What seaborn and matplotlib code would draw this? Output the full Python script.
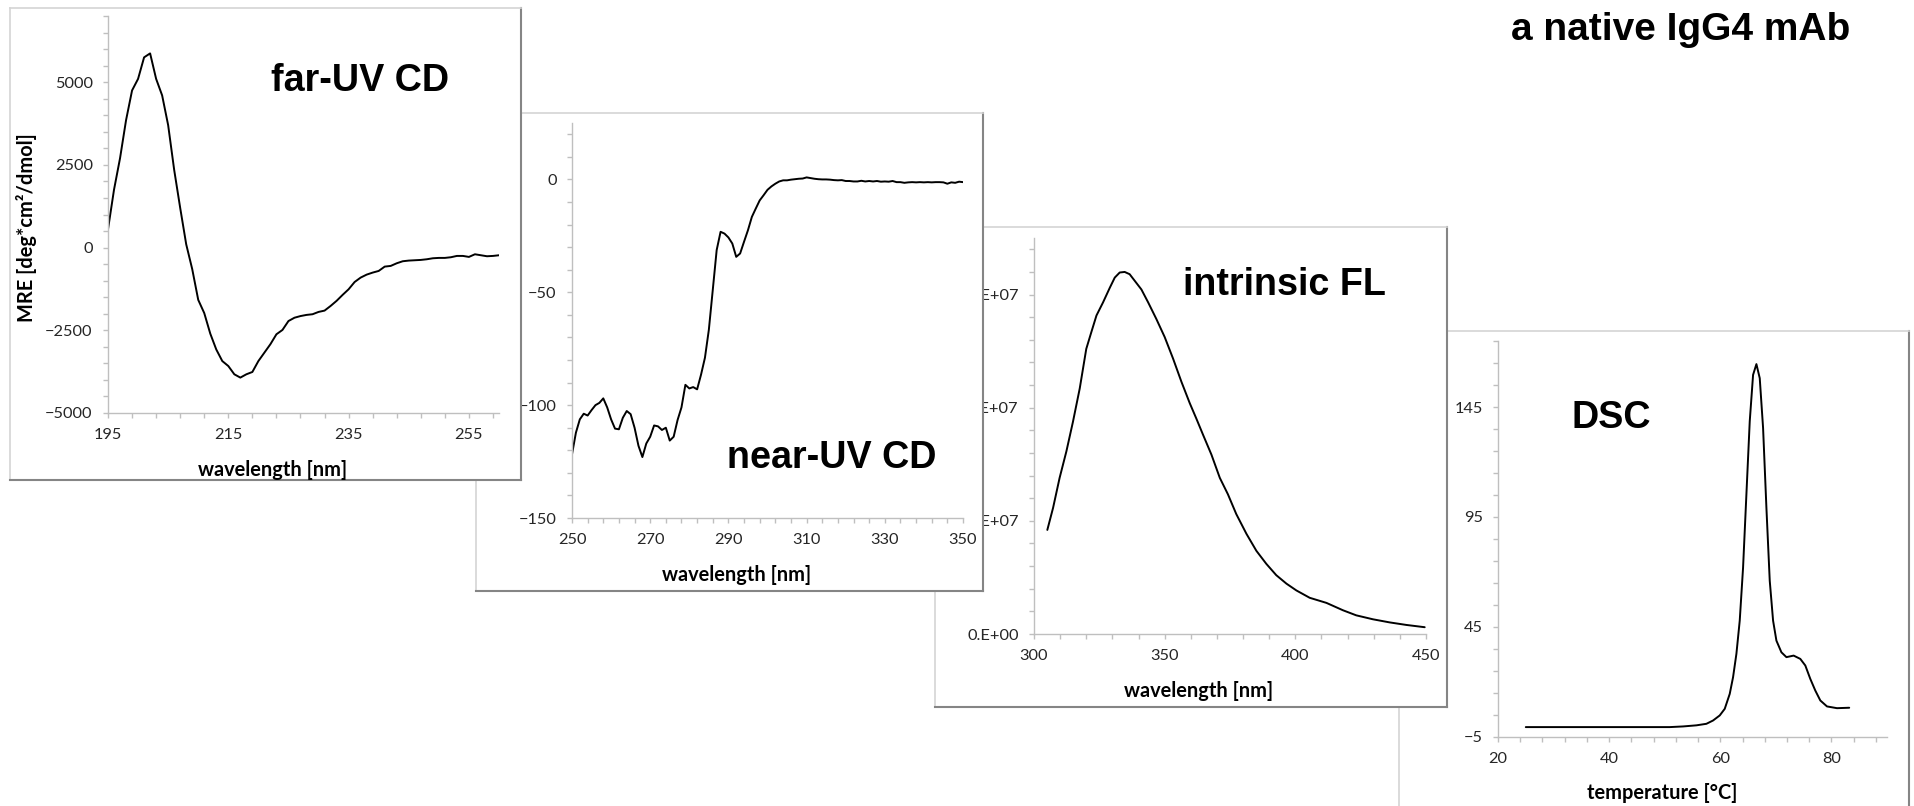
import numpy as np
import matplotlib
matplotlib.use("Agg")
import matplotlib.pyplot as plt
from matplotlib.ticker import FixedLocator, NullFormatter
import seaborn as sns

# ---------------- data ----------------
far_uv_wl = [195, 196, 197, 198, 199, 200, 201, 202, 203, 204, 205, 206, 207, 208, 209,
             210, 211, 212, 213, 214, 215, 216, 217, 218, 219, 220, 221, 222, 223, 224,
             225, 226, 227, 228, 229, 230, 231, 232, 233, 234, 235, 236, 237, 238, 239,
             240, 241, 242, 243, 244, 245, 246, 247, 248, 249, 250, 251, 252, 253, 254,
             255, 256, 257, 258, 259, 260]
far_uv_mre = [550, 1750, 2700, 3850, 4750, 5100, 5750, 5870, 5100, 4600, 3700, 2350, 1200, 100, -650,
              -1580, -1980, -2600, -3080, -3430, -3580, -3830, -3930, -3830, -3760, -3430, -3175, -2920, -2620, -2490,
              -2220, -2120, -2070, -2035, -2015, -1945, -1905, -1765, -1610, -1430, -1260, -1040, -907, -817, -756,
              -706, -575, -554, -474, -413, -393, -383, -373, -353, -323, -312, -312, -292, -252, -252,
              -282, -202, -232, -262, -252, -232]

near_uv_wl = list(range(250, 351))
near_uv_mre = [-121.8, -112.2, -106.3, -103.8, -104.6, -102.2, -100.0, -99.0, -97.0, -101.0,
               -106.3, -110.4, -110.7, -105.6, -102.6, -104.0, -110.0, -118.0, -123.0, -117.0,
               -114.0, -109.0, -109.4, -111.0, -110.0, -115.7, -114.0, -106.6, -101.0, -91.0,
               -92.6, -92.0, -93.0, -86.5, -79.0, -66.6, -49.0, -31.3, -23.2, -24.0,
               -25.7, -28.4, -34.3, -32.8, -27.6, -22.5, -16.6, -12.9, -9.3, -7.0,
               -4.6, -3.1, -1.9, -0.9, -0.4, -0.4, -0.1, 0.1, 0.3, 0.4,
               0.9, 0.6, 0.3, 0.1, 0.0, 0.0, -0.1, -0.3, -0.4, -0.3,
               -0.7, -0.7, -0.9, -0.9, -0.6, -0.9, -0.7, -0.9, -0.7, -1.0,
               -0.9, -1.0, -0.7, -1.2, -1.2, -1.5, -1.3, -1.2, -1.3, -1.2,
               -1.3, -1.2, -1.3, -1.2, -1.2, -1.3, -1.9, -1.3, -1.5, -1.0, -1.2]

fl_wl = [305.1, 307.3, 309.8, 312.4, 314.9, 317.5, 320.0, 321.9, 323.9, 326.4, 329.0, 330.9,
         332.8, 334.7, 336.6, 338.6, 341.1, 343.7, 346.8, 350.0, 353.2, 356.4, 359.6, 362.1,
         364.7, 367.9, 371.1, 374.2, 377.4, 381.3, 385.1, 388.9, 392.7, 396.6, 400.4, 405.5,
         411.9, 418.2, 423.3, 429.7, 436.1, 442.5, 449.5]
fl_int = [18.4e6, 22.3e6, 27.6e6, 32.3e6, 37.5e6, 43.4e6, 50.4e6, 53.3e6, 56.3e6, 58.6e6, 61.2e6, 63.0e6,
          63.9e6, 64.0e6, 63.6e6, 62.4e6, 60.9e6, 58.6e6, 55.7e6, 52.5e6, 48.7e6, 44.6e6, 40.8e6, 38.1e6,
          35.2e6, 31.7e6, 27.6e6, 24.7e6, 21.2e6, 17.7e6, 14.7e6, 12.4e6, 10.4e6, 8.9e6, 7.7e6, 6.4e6,
          5.5e6, 4.2e6, 3.3e6, 2.6e6, 2.05e6, 1.6e6, 1.2e6]

dsc_temp = [25.0, 36.5, 50.9, 53.3, 55.7, 57.5, 58.7, 59.9, 60.8, 61.7, 62.3, 62.9, 63.5, 64.1,
            64.7, 65.3, 65.9, 66.5, 67.1, 67.7, 68.3, 68.9, 69.5, 70.1, 71.0, 71.9, 73.2, 74.4,
            75.3, 76.2, 77.1, 78.0, 79.2, 81.0, 83.2]
dsc_cp = [-0.5, -0.5, -0.5, -0.2, 0.3, 1.0, 2.5, 4.8, 7.8, 14.6, 22.2, 32.8, 47.9, 72.0,
          105.3, 138.5, 159.6, 164.5, 158.1, 135.5, 99.2, 66.0, 47.9, 38.8, 33.5, 31.3, 32.0, 30.5,
          27.5, 21.4, 16.1, 11.6, 8.9, 8.1, 8.3]

panel_titles = ["far-UV CD", "near-UV CD", "intrinsic FL", "DSC"]
x_labels = ["wavelength [nm]", "wavelength [nm]", "wavelength [nm]", "temperature [°C]"]
y_label_far = "MRE [deg*cm²/dmol]"
main_title = "a native IgG4 mAb"

far_xticks = [195, 215, 235, 255]
far_yticks = [-5000, -2500, 0, 2500, 5000]
near_xticks = [250, 270, 290, 310, 330, 350]
near_yticks = [-150, -100, -50, 0]
fl_xticks = [300, 350, 400, 450]
fl_yticks = [0, 2e7, 4e7, 6e7]
fl_yticklabels = ["0.E+00", "2.E+07", "4.E+07", "6.E+07"]
dsc_xticks = [20, 40, 60, 80]
dsc_yticks = [-5, 45, 95, 145]

# ---------------- style ----------------
sns.set_theme(style="white")
plt.rcParams['font.family'] = ['Lato', 'DejaVu Sans']
plt.rcParams['axes.linewidth'] = 1.0

W, H = 1915, 806
fig = plt.figure(figsize=(W / 100, H / 100), dpi=100)
fig.patch.set_facecolor("white")


def rect(x0, y0, x1, y1):
    return [x0 / W, 1 - y1 / H, (x1 - x0) / W, (y1 - y0) / H]


AX_GRAY = "#bfbfbf"
TICK_TXT = "#262626"


def make_frame(box, z):
    fa = fig.add_axes(rect(*box), zorder=z)
    fa.set_facecolor("white")
    fa.set_xticks([])
    fa.set_yticks([])
    for s in ["top", "left"]:
        fa.spines[s].set_color("#d4d4d4")
        fa.spines[s].set_linewidth(1.2)
    for s in ["right", "bottom"]:
        fa.spines[s].set_color("#858585")
        fa.spines[s].set_linewidth(1.5)
    return fa


def make_axes(box, z, x, y, xlim, ylim, xticks, xminor, yticks, yminor):
    ax = fig.add_axes(rect(*box), zorder=z)
    ax.patch.set_alpha(0)
    sns.lineplot(x=x, y=y, ax=ax, color="black", linewidth=1.4)
    ax.set_xlim(*xlim)
    ax.set_ylim(*ylim)
    ax.xaxis.set_major_locator(FixedLocator(xticks))
    ax.xaxis.set_minor_locator(FixedLocator(xminor))
    ax.yaxis.set_major_locator(FixedLocator(yticks))
    ax.yaxis.set_minor_locator(FixedLocator(yminor))
    ax.xaxis.set_minor_formatter(NullFormatter())
    ax.yaxis.set_minor_formatter(NullFormatter())
    for s in ["top", "right"]:
        ax.spines[s].set_visible(False)
    for s in ["left", "bottom"]:
        ax.spines[s].set_color(AX_GRAY)
        ax.spines[s].set_linewidth(1.0)
    ax.tick_params(which="both", direction="out", length=3.5, width=1.0, color=AX_GRAY,
                   labelsize=11.8, labelcolor=TICK_TXT, pad=7.5,
                   bottom=True, left=True)
    ax.set_xlabel("")
    ax.set_ylabel("")
    return ax


def px_text(ax, box, px, py, s, **kw):
    x0, y0, x1, y1 = box
    fx = (px - x0) / (x1 - x0)
    fy = (y1 - py) / (y1 - y0)
    return ax.text(fx, fy, s, transform=ax.transAxes, clip_on=False, **kw)


TITLE_KW = dict(fontsize=27.2, fontweight="bold", family=["Liberation Sans", "DejaVu Sans"],
                color="black", ha="center", va="baseline")
LABEL_KW = dict(fontsize=14.4, fontweight="bold", color="black", ha="center", va="center")

# ---------------- panel 4: DSC (bottom of stack) ----------------
make_frame((1399, 331, 1909, 860), 1)
b4 = (1498, 341, 1887, 737)
ax4 = make_axes(b4, 2, dsc_temp, dsc_cp, (20, 90), (-5, 175),
                dsc_xticks, np.arange(20, 91, 4), dsc_yticks, np.arange(-5, 176, 10))
px_text(ax4, b4, 1611, 428, panel_titles[3], **TITLE_KW)
px_text(ax4, b4, 1662, 793, x_labels[3], **LABEL_KW)

# ---------------- panel 3: intrinsic FL ----------------
make_frame((935, 227, 1447, 707), 3)
b3 = (1034, 238, 1426, 634)
ax3 = make_axes(b3, 4, fl_wl, fl_int, (300, 450), (0, 7e7),
                fl_xticks, np.arange(300, 451, 10), fl_yticks, np.arange(0, 7.01e7, 4e6))
ax3.set_yticklabels(fl_yticklabels)
px_text(ax3, b3, 1284, 295, panel_titles[2], **TITLE_KW)
px_text(ax3, b3, 1199, 691, x_labels[2], **LABEL_KW)

# ---------------- panel 2: near-UV CD ----------------
make_frame((476, 113, 983, 591), 5)
b2 = (572, 123, 963, 518)
ax2 = make_axes(b2, 6, near_uv_wl, near_uv_mre, (250, 350), (-150, 25),
                near_xticks, np.arange(250, 351, 4), near_yticks, np.arange(-150, 26, 10))
px_text(ax2, b2, 832, 468, panel_titles[1], **TITLE_KW)
px_text(ax2, b2, 737, 575, x_labels[1], **LABEL_KW)

# ---------------- panel 1: far-UV CD (top of stack) ----------------
make_frame((10, 8, 521, 480), 7)
b1 = (108, 16, 499, 413)
ax1 = make_axes(b1, 8, far_uv_wl, far_uv_mre, (195, 260), (-5000, 7000),
                far_xticks, np.arange(195, 261, 4), far_yticks, np.arange(-5000, 7001, 500))
px_text(ax1, b1, 360, 91, panel_titles[0], **TITLE_KW)
px_text(ax1, b1, 273, 470, x_labels[0], **LABEL_KW)
px_text(ax1, b1, 27, 228, y_label_far, rotation=90, **LABEL_KW)

# ---------------- main title ----------------
fig.text(1681 / W, 1 - 40 / H, main_title, fontsize=28, fontweight="bold",
         family=["Liberation Sans", "DejaVu Sans"], ha="center", va="baseline",
         color="black", zorder=20)

fig.savefig("out.png", dpi=100, facecolor="white")
